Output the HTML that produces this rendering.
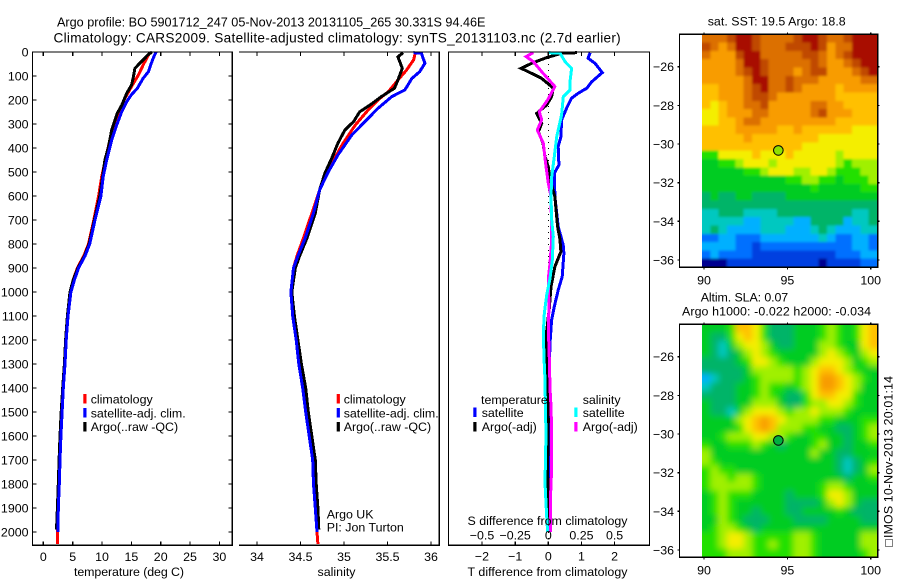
<!DOCTYPE html>
<html lang="en">
<head>
<meta charset="utf-8">
<title>Argo profile chart</title>
<style>
html,body{margin:0;padding:0;background:#fff;}
#chart{display:block;width:900px;height:580px;}
text{font-family:"Liberation Sans",sans-serif;font-size:12.4px;fill:#000;}
text.title-a{font-size:12.65px;}
text.title-b{font-size:13.6px;letter-spacing:0.29px;}
.axis{fill:none;stroke:#000;stroke-width:1.2;shape-rendering:crispEdges;}
.series{fill:none;stroke-width:3;stroke-linejoin:miter;shape-rendering:crispEdges;}
</style>
</head>
<body>
<svg id="chart" xmlns="http://www.w3.org/2000/svg" width="900" height="580" viewBox="0 0 900 580">
  <defs>
    <filter id="soft-sst" x="-10%" y="-10%" width="120%" height="120%"><feGaussianBlur stdDeviation="1.4"/></filter>
    <filter id="soft-sla" x="-10%" y="-10%" width="120%" height="120%"><feGaussianBlur stdDeviation="3.2"/></filter>
    <clipPath id="clip-sst"><rect x="702" y="34.3" width="175" height="232.6"/></clipPath>
    <clipPath id="clip-sla"><rect x="702" y="324.3" width="175" height="232.6"/></clipPath>
  </defs>
  <rect x="0" y="0" width="900" height="580" fill="#fff"/>
  <text class="title-a" x="57" y="26.5">Argo profile: BO 5901712_247 05-Nov-2013 20131105_265 30.331S 94.46E</text>
  <text class="title-b" x="53.5" y="42.5">Climatology: CARS2009. Satellite-adjusted climatology: synTS_20131103.nc (2.7d earlier)</text>

  <g clip-path="url(#clip-sst)"><g id="heat-sst" filter="url(#soft-sst)"></g></g>
  <g clip-path="url(#clip-sla)"><g id="heat-sla" filter="url(#soft-sla)"></g></g>
  <g id="marks"></g>
  <g id="axes"></g>

  <text x="74" y="576" textLength="110" lengthAdjust="spacing">temperature (deg C)</text>
  <text x="317.5" y="576" textLength="38" lengthAdjust="spacing">salinity</text>
  <text x="467.5" y="576" textLength="160" lengthAdjust="spacing">T difference from climatology</text>
  <text x="467.5" y="525" textLength="160" lengthAdjust="spacing">S difference from climatology</text>

  <g>
    <rect x="83.3" y="394" width="3.2" height="9.5" fill="#ff0000"/>
    <text x="90.7" y="403.5">climatology</text>
    <rect x="83.3" y="408" width="3.2" height="9.5" fill="#0000ff"/>
    <text x="90.7" y="417.5" textLength="95" lengthAdjust="spacing">satellite-adj. clim.</text>
    <rect x="83.3" y="422" width="3.2" height="9.5" fill="#000"/>
    <text x="90.7" y="431">Argo(..raw -QC)</text>
  </g>
  <g>
    <rect x="336.7" y="394" width="3.2" height="9.5" fill="#ff0000"/>
    <text x="343.7" y="403.5">climatology</text>
    <rect x="336.7" y="408" width="3.2" height="9.5" fill="#0000ff"/>
    <text x="343.7" y="417.5" textLength="95" lengthAdjust="spacing">satellite-adj. clim.</text>
    <rect x="336.7" y="422" width="3.2" height="9.5" fill="#000"/>
    <text x="343.7" y="431">Argo(..raw -QC)</text>
  </g>
  <text x="326.7" y="518.3">Argo UK</text>
  <text x="326.7" y="531.7">PI: Jon Turton</text>

  <g>
    <text x="481" y="404">temperature</text>
    <text x="582.7" y="404">salinity</text>
    <rect x="473.3" y="407.5" width="3.2" height="9.5" fill="#0000ff"/>
    <text x="481.7" y="417">satellite</text>
    <rect x="473.3" y="422" width="3.2" height="9.5" fill="#000"/>
    <text x="481.7" y="431">Argo(-adj)</text>
    <rect x="574.3" y="407.5" width="3.2" height="9.5" fill="#00ffff"/>
    <text x="582.7" y="417">satellite</text>
    <rect x="574.3" y="422" width="3.2" height="9.5" fill="#ff00ff"/>
    <text x="582.7" y="431">Argo(-adj)</text>
  </g>

  <text x="707.7" y="25.3" textLength="138" lengthAdjust="spacing">sat. SST: 19.5 Argo: 18.8</text>
  <text x="700.7" y="301.7" textLength="87.5" lengthAdjust="spacing">Altim. SLA: 0.07</text>
  <text x="682" y="315.7" textLength="189" lengthAdjust="spacing">Argo h1000: -0.022 h2000: -0.034</text>

  <rect x="885.5" y="539.5" width="7" height="7" fill="none" stroke="#000" stroke-width="1" stroke-dasharray="1 1" shape-rendering="crispEdges"/>
  <text transform="translate(892.3,538) rotate(-90)" textLength="162" lengthAdjust="spacing">IMOS 10-Nov-2013 20:01:14</text>
</svg>

<script>
// ---------- temperature panel data ----------
const tempClimDepth = [0, 47, 96, 137, 193, 255, 332, 436, 519, 603, 700, 800, 850, 900, 950, 1000, 1100, 1200, 1300, 1400, 1500, 1600, 1700, 1800, 1900, 2000, 2050];
const tempClimValue = [18.2, 17.15, 16.2, 15.2, 13.9, 12.8, 11.65, 10.7, 9.95, 9.4, 8.6, 7.7, 6.9, 5.8, 5.1, 4.6, 4.15, 3.85, 3.65, 3.35, 3.15, 2.95, 2.8, 2.68, 2.5, 2.42, 2.4];
const tempSatDepth = [0, 33, 82, 110, 152, 177, 207, 249, 304, 367, 450, 519, 603, 700, 800, 850, 900, 950, 1000, 1100, 1200, 1300, 1400, 1500, 1600, 1700, 1800, 1900, 2000];
const tempSatValue = [19.2, 18.6, 17.9, 17.0, 16.0, 15.05, 14.2, 13.35, 12.5, 11.65, 10.8, 10.2, 9.8, 8.8, 7.9, 7.1, 6.0, 5.3, 4.7, 4.2, 3.9, 3.7, 3.4, 3.2, 3.0, 2.85, 2.73, 2.55, 2.5];
const tempArgoDepth = [0, 10, 33, 68, 110, 137, 172, 222, 255, 325, 395, 450, 519, 603, 700, 800, 850, 900, 950, 1000, 1100, 1200, 1300, 1400, 1500, 1600, 1700, 1800, 1900, 1990];
const tempArgoValue = [18.5, 17.9, 17.0, 15.6, 15.3, 15.05, 14.2, 13.35, 12.6, 11.65, 11.1, 10.5, 10.1, 9.6, 8.7, 7.8, 7.0, 5.9, 5.1, 4.55, 4.1, 3.8, 3.6, 3.3, 3.05, 2.85, 2.7, 2.55, 2.4, 2.25];

// ---------- salinity panel data ----------
const salClimDepth = [3, 33, 75, 117, 165, 200, 249, 304, 380, 450, 533, 630, 779, 850, 900, 1000, 1100, 1200, 1300, 1400, 1500, 1600, 1700, 1800, 1900, 2000, 2050];
const salClimValue = [35.82, 35.80, 35.72, 35.62, 35.51, 35.39, 35.26, 35.13, 34.99, 34.88, 34.76, 34.67, 34.53, 34.46, 34.42, 34.39, 34.41, 34.45, 34.48, 34.54, 34.57, 34.61, 34.65, 34.66, 34.68, 34.69, 34.70];
const salSatDepth = [3, 5, 47, 82, 110, 158, 186, 235, 283, 346, 429, 499, 575, 671, 779, 850, 900, 1000, 1100, 1200, 1300, 1400, 1500, 1600, 1700, 1800, 1900, 2000];
const salSatValue = [35.80, 35.89, 35.93, 35.87, 35.78, 35.70, 35.55, 35.39, 35.26, 35.09, 34.93, 34.82, 34.72, 34.65, 34.55, 34.47, 34.42, 34.39, 34.41, 34.45, 34.48, 34.525, 34.56, 34.60, 34.64, 34.65, 34.67, 34.69];
const salArgoDepth = [3, 20, 68, 117, 151, 186, 221, 249, 290, 325, 380, 442, 505, 575, 671, 779, 850, 900, 1000, 1100, 1200, 1300, 1400, 1500, 1600, 1700, 1800, 1900, 1990];
const salArgoValue = [35.68, 35.62, 35.67, 35.62, 35.58, 35.43, 35.30, 35.18, 35.11, 35.01, 34.93, 34.86, 34.78, 34.72, 34.67, 34.57, 34.49, 34.44, 34.40, 34.43, 34.47, 34.51, 34.56, 34.59, 34.63, 34.67, 34.68, 34.70, 34.71];

// ---------- difference panel data ----------
const diffTSatDepth = [3, 26, 47, 86, 124, 151, 172, 193, 235, 283, 353, 394, 471, 505, 603, 728, 779, 804, 838, 936, 992, 1061, 1117, 1213, 1367, 1533, 1800, 2000];
const diffTSatValue = [1.26, 1.2, 1.41, 1.63, 1.31, 1.16, 0.9, 0.7, 0.55, 0.4, 0.38, 0.3, 0.32, 0.18, 0.2, 0.3, 0.4, 0.45, 0.47, 0.42, 0.3, 0.18, 0.1, 0.05, 0.02, 0.0, 0.01, 0.06];
const diffTArgoDepth = [3, 5, 26, 47, 68, 89, 110, 151, 186, 221, 256, 297, 332, 380, 436, 478, 533, 603, 728, 779, 832, 894, 978, 1068, 1165, 1290, 1400, 1533, 1728, 1840, 2000];
const diffTArgoValue = [0.86, 0.4, -0.1, -0.5, -0.82, -0.5, -0.2, 0.15, 0.1, -0.05, -0.35, -0.2, -0.3, -0.16, -0.1, 0.0, 0.05, 0.2, 0.28, 0.35, 0.38, 0.2, 0.08, 0.03, -0.05, -0.05, -0.02, 0.0, -0.02, -0.01, 0.0];
const diffSSatDepth = [3, 4, 40, 68, 124, 158, 186, 262, 353, 436, 519, 603, 700, 769, 867, 944, 1012, 1090, 1172, 1283, 1367, 1520, 1588, 1796, 1936, 2000];
const diffSSatValue = [0.0, 0.088, 0.126, 0.176, 0.164, 0.164, 0.113, 0.1, 0.063, 0.045, 0.026, 0.02, 0.026, 0.038, 0.03, 0.013, -0.012, -0.03, -0.038, -0.032, -0.025, -0.02, -0.017, -0.025, -0.012, -0.005];
const diffSArgoDepth = [3, 19, 40, 82, 144, 200, 249, 283, 325, 380, 464, 547, 603, 783, 880, 944, 1061, 1145, 1290, 1400, 1478, 1588, 1728, 1876, 2000];
const diffSArgoValue = [-0.113, -0.168, -0.113, -0.05, 0.05, -0.005, -0.068, -0.05, -0.083, -0.038, -0.02, 0.0, 0.02, 0.026, 0.013, 0.0, 0.005, 0.0, 0.008, 0.013, 0.02, 0.026, 0.026, 0.015, 0.015];

// ---------- tick labels ----------
const depthTicks = [0, 100, 200, 300, 400, 500, 600, 700, 800, 900, 1000, 1100, 1200, 1300, 1400, 1500, 1600, 1700, 1800, 1900, 2000];
const tempTicks = [0, 5, 10, 15, 20, 25, 30];
const salTicks = [34, 34.5, 35, 35.5, 36];
const diffTTicks = [-2, -1, 0, 1, 2];
const diffSTicks = [-0.5, -0.25, 0, 0.25, 0.5];
const lonTicks = [90, 95, 100];
const latTicks = [-26, -28, -30, -32, -34, -36];

// ---------- map data (colour level per cell, north to south) ----------
const sstGrid = [
[12,12,12,13,14,14,13,12,12,12,12,13,14,14,13,12,12,13,14,14,14],
[13,12,11,12,14,14,13,12,12,12,13,13,13,14,13,11,12,12,14,14,14],
[12,11,11,11,13,14,14,12,12,12,12,12,13,13,12,11,12,13,14,14,14],
[11,11,11,11,12,14,14,13,12,12,12,12,12,13,12,11,11,12,13,14,14],
[11,11,11,11,12,13,14,13,12,12,12,11,12,13,13,11,11,11,12,13,14],
[11,11,11,11,11,12,14,14,12,12,13,12,12,12,11,11,11,11,11,12,12],
[10,10,11,11,11,12,13,14,12,12,13,12,11,11,11,11,10,11,11,11,11],
[10,10,11,11,11,12,13,13,12,11,11,11,11,11,11,11,10,10,10,10,10],
[10,9,10,11,11,12,12,13,11,11,11,11,11,12,12,11,11,10,10,10,10],
[9,9,10,11,11,11,12,12,11,11,11,11,11,12,13,11,11,11,10,10,10],
[9,9,10,10,11,12,12,11,11,11,11,11,11,11,11,11,10,10,10,10,10],
[10,10,10,10,11,11,11,11,11,10,10,11,10,10,10,10,10,10,9,9,9],
[10,10,10,10,10,11,10,10,10,10,10,10,10,10,9,9,9,9,9,9,9],
[10,10,10,10,10,10,10,10,10,10,10,10,9,9,9,9,9,9,9,9,9],
[7,7,9,9,9,9,10,9,9,9,10,9,9,9,9,9,8,9,9,9,9],
[6,6,7,7,8,9,9,9,8,9,9,9,9,9,9,9,8,7,8,8,8],
[6,6,6,6,6,7,7,8,9,9,9,8,8,9,9,8,7,7,7,8,8],
[6,6,6,6,6,6,6,6,6,6,7,7,8,8,7,7,6,7,7,7,8],
[6,6,6,6,6,6,6,6,6,6,6,6,6,7,6,6,6,6,6,7,7],
[5,6,5,5,6,6,5,5,5,5,6,6,6,6,6,6,6,6,6,6,6],
[5,5,5,5,5,5,5,5,5,5,5,5,5,5,5,5,5,5,5,5,5],
[4,4,5,5,5,4,4,4,4,5,5,5,5,5,5,5,5,5,4,4,5],
[4,4,4,4,4,3,3,4,4,4,4,3,3,5,5,5,5,3,4,4,5],
[4,5,4,3,3,3,3,4,4,4,3,3,3,4,5,4,3,3,3,4,4],
[2,2,3,3,2,2,2,3,3,3,3,3,3,3,4,3,2,2,3,3,2],
[3,3,3,3,2,2,1,2,2,2,2,2,2,2,2,2,2,2,3,3,2],
[2,3,2,2,2,2,1,1,1,1,1,1,1,1,1,1,2,2,2,3,3],
[0,0,0,1,1,1,1,1,1,1,1,1,1,1,0,1,1,1,1,2,2]
];
const slaGrid = [
[6,6,6,7,10,10,9,7,5,5,5,6,6,6,7,8,7,6,7,9,10],
[6,5,5,7,9,10,9,7,5,5,5,6,6,6,7,8,7,6,7,9,10],
[6,5,4,6,8,9,9,8,6,5,5,6,6,6,8,8,7,6,6,9,10],
[6,5,4,5,6,8,9,8,7,6,6,6,6,6,8,9,8,7,6,8,9],
[5,5,5,5,6,7,9,9,8,7,6,6,6,8,9,9,9,8,6,7,8],
[5,5,5,5,5,6,8,8,8,8,8,7,8,9,10,10,9,8,7,6,6],
[3,4,5,5,5,6,7,8,8,8,8,7,8,9,11,11,10,9,8,7,6],
[4,5,5,5,6,6,7,8,7,7,6,7,8,9,11,11,10,9,8,6,6],
[5,5,5,5,6,6,7,8,7,6,5,5,7,9,10,10,9,9,7,6,6],
[6,5,5,5,6,6,8,8,8,6,5,5,7,8,8,9,9,8,7,6,6],
[6,5,5,4,6,8,9,9,9,8,7,8,8,9,8,8,8,7,6,6,6],
[6,6,6,6,8,9,10,11,10,9,8,8,8,8,7,7,6,6,6,7,7],
[6,6,6,6,7,9,10,11,10,8,8,8,7,7,6,6,5,5,6,7,8],
[6,6,7,8,8,8,9,9,8,8,7,6,6,7,7,6,6,5,6,7,8],
[7,6,6,7,7,7,8,7,6,5,6,6,6,7,8,6,6,5,6,6,7],
[8,6,6,6,6,6,6,6,6,6,6,6,6,8,6,6,5,5,6,6,6],
[8,7,6,6,6,6,6,6,6,6,6,6,6,6,6,6,5,4,5,6,7],
[7,8,7,7,6,6,6,6,6,6,6,6,6,6,6,6,5,4,5,6,8],
[7,8,8,7,8,8,7,6,6,6,6,6,6,6,6,6,6,5,6,6,7],
[7,8,8,8,8,8,7,6,6,6,6,6,6,6,7,8,8,7,6,6,6],
[6,7,8,7,7,7,6,6,6,6,5,6,6,6,7,9,9,8,6,6,6],
[6,7,8,7,6,6,6,6,6,6,5,5,5,5,6,8,9,8,6,5,5],
[6,7,8,7,6,6,5,6,6,6,5,5,6,6,6,6,7,6,5,5,5],
[6,6,8,7,6,5,5,5,6,6,6,5,5,5,5,6,6,6,6,5,5],
[6,7,8,8,7,6,5,6,6,6,6,6,6,6,6,6,6,6,6,6,6],
[7,7,8,9,9,8,7,7,7,7,7,8,8,7,6,6,6,6,6,8,8],
[7,7,8,9,9,8,7,7,8,7,7,8,8,7,6,6,6,6,6,8,8],
[7,7,7,8,8,8,7,7,7,7,7,8,8,7,6,6,6,6,6,7,8]
];
const levelColors = ['#000090','#0040e0','#0070ff','#00b0ff','#00c8c0','#00b468','#00cc20','#20e000','#a0f000','#f4ee00','#ffc000','#f89c00','#dc7000','#c04800','#a81000'];
const floatLon = 94.46;
const floatLat = -30.331;
const floatSstLevelColor = '#90e000';
const floatSlaLevelColor = '#00b040';

// ---------- helpers and axis functions ----------
const NS = 'http://www.w3.org/2000/svg';
function make(parent, tag, props, txt) {
  const el = document.createElementNS(NS, tag);
  for (const k in props) el.setAttribute(k, props[k]);
  if (txt !== undefined) el.textContent = txt;
  parent.appendChild(el);
  return el;
}
const TOP = 52, BOTTOM = 545.3;
function yDepth(d) { return 52 + 0.24 * d; }
function xTemp(t) { return 43.3 + 5.87 * t; }
function xSal(s) { return 257 + 87 * (s - 34); }
function xDiffT(t) { return 548.3 + 33.15 * t; }
function xDiffS(s) { return 548.3 + 132.6 * s; }
function xLon(l) { return 704 + 16.67 * (l - 90); }
function yLatFrom(y26) { return function (l) { return y26 + 19.33 * (-26 - l); }; }

const marks = document.getElementById('marks');
const axes = document.getElementById('axes');

function drawLine(xf, depths, values, color, name, width) {
  const pts = depths.map(function (d, i) { return xf(values[i]).toFixed(1) + ',' + yDepth(d).toFixed(1); }).join(' ');
  const el = make(marks, 'polyline', { points: pts, 'class': 'series', stroke: color, 'stroke-width': width || 3 });
  
  
}

drawLine(xTemp, tempClimDepth, tempClimValue, '#ff0000', 'temperature-climatology-line');
drawLine(xTemp, tempArgoDepth, tempArgoValue, '#000000', 'temperature-argo-line');
drawLine(xTemp, tempSatDepth, tempSatValue, '#0000ff', 'temperature-satellite-line');

drawLine(xSal, salClimDepth, salClimValue, '#ff0000', 'salinity-climatology-line');
drawLine(xSal, salArgoDepth, salArgoValue, '#000000', 'salinity-argo-line');
drawLine(xSal, salSatDepth, salSatValue, '#0000ff', 'salinity-satellite-line');

const zeroLine = make(marks, 'line', { x1: xDiffT(0), x2: xDiffT(0), y1: TOP, y2: BOTTOM, stroke: '#000', 'stroke-width': 1, 'stroke-dasharray': '1 5', 'shape-rendering': 'crispEdges' });



drawLine(xDiffT, diffTSatDepth, diffTSatValue, '#0000ff', 'difference-t-satellite-line');
drawLine(xDiffT, diffTArgoDepth, diffTArgoValue, '#000000', 'difference-t-argo-line');
drawLine(xDiffS, diffSArgoDepth, diffSArgoValue, '#ff00ff', 'difference-s-argo-line');
drawLine(xDiffS, diffSSatDepth, diffSSatValue, '#00ffff', 'difference-s-satellite-line');

// ---------- axes ----------
function frame(pathD, name) {
  const el = make(axes, 'path', { d: pathD, 'class': 'axis' });
  
  
}
function tick(x1, y1, x2, y2, name) {
  const el = make(axes, 'line', { x1: x1, y1: y1, x2: x2, y2: y2, 'class': 'axis' });
  
  
}
function label(x, y, anchor, s, name) {
  const el = make(axes, 'text', { x: x, y: y, 'text-anchor': anchor }, s);
  
  
}
function fmt(v) { return String(v).replace('-', '\u2212'); }

// panel 1
frame('M32.5 52H232.3V545.3H32.5Z', 'temperature-axes-frame');
depthTicks.forEach(function (d) {
  const y = yDepth(d);
  tick(32.5, y, 36.5, y, 'depth-tick-left');
  tick(228.3, y, 232.3, y, 'depth-tick-right');
  label(28.5, y + 4.5, 'end', String(d), 'depth-tick-label');
});
tempTicks.forEach(function (t) {
  const x = xTemp(t);
  tick(x, 52, x, 56, 'temperature-tick-top');
  tick(x, 541.3, x, 545.3, 'temperature-tick-bottom');
  label(x, 561, 'middle', String(t), 'temperature-tick-label');
});

// panel 2
frame('M239 52H439.3V545.3H239', 'salinity-axes-frame');
salTicks.forEach(function (s) {
  const x = xSal(s);
  tick(x, 52, x, 56, 'salinity-tick-top');
  tick(x, 541.3, x, 545.3, 'salinity-tick-bottom');
  label(x, 561, 'middle', String(s), 'salinity-tick-label');
});

// panel 3
frame('M448.5 52H649.5V545.3H448.5Z', 'difference-axes-frame');
diffTTicks.forEach(function (t) {
  const x = xDiffT(t);
  tick(x, 52, x, 56, 'difference-t-tick-top');
  tick(x, 541.3, x, 545.3, 'difference-t-tick-bottom');
  label(x, 560.5, 'middle', fmt(t), 'difference-t-tick-label');
});
diffSTicks.forEach(function (s) {
  label(xDiffS(s), 539.5, 'middle', fmt(s), 'difference-s-tick-label');
});

// ---------- maps ----------
function drawMap(groupId, grid, mapTop, y26, pointColor, prefix) {
  const g = document.getElementById(groupId);
  const yLat = yLatFrom(y26);
  const lonStart = 89.88, latStart = -26 + (y26 - mapTop) / 19.33;
  const dLon = 0.5, dLat = 0.43;
  const bleed = 12;
  grid.forEach(function (row, r) {
    row.forEach(function (v, c) {
      let x0 = xLon(lonStart + c * dLon), y0 = yLat(latStart - r * dLat);
      let w = 16.67 * dLon + 0.4, h = 19.33 * dLat + 0.4;
      if (c === 0) { x0 -= bleed; w += bleed; }
      if (c === row.length - 1) { w += bleed; }
      if (r === 0) { y0 -= bleed; h += bleed; }
      if (r === grid.length - 1) { h += bleed; }
      const cell = make(g, 'rect', { x: x0.toFixed(2), y: y0.toFixed(2), width: w.toFixed(2), height: h.toFixed(2), fill: levelColors[v], 'shape-rendering': 'crispEdges' });
      
      
    });
  });
  const bottom = mapTop + 233;
  frame('M679.5 ' + mapTop + 'H877.7V' + bottom + 'H679.5Z', prefix + '-axes-frame');
  lonTicks.forEach(function (l) {
    const x = xLon(l);
    tick(x, mapTop - 2, x, mapTop, prefix + '-lon-tick-top');
    tick(x, bottom, x, bottom + 2, prefix + '-lon-tick-bottom');
    label(x, bottom + 17, 'middle', String(l), prefix + '-lon-tick-label');
  });
  latTicks.forEach(function (l) {
    const y = yLat(l);
    tick(677.5, y, 679.5, y, prefix + '-lat-tick-left');
    tick(877.7, y, 879.7, y, prefix + '-lat-tick-right');
    label(674, y + 4.5, 'end', fmt(l), prefix + '-lat-tick-label');
  });
  const marker = make(axes, 'circle', { cx: xLon(floatLon), cy: yLat(floatLat), r: 4.8, fill: pointColor, stroke: '#000', 'stroke-width': 1 });
  
  
}
drawMap('heat-sst', sstGrid, 34.3, 66.7, floatSstLevelColor, 'sst-map');
drawMap('heat-sla', slaGrid, 324.3, 356.7, floatSlaLevelColor, 'sla-map');
</script>
</body>
</html>
